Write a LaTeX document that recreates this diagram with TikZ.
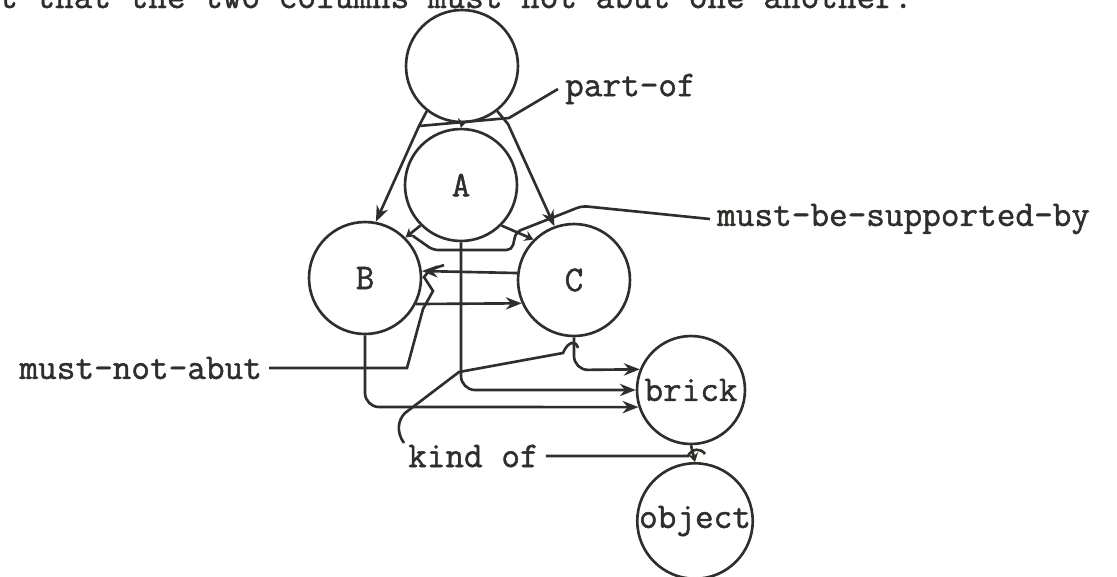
\documentclass[tikz,border=0pt]{standalone}
\usepackage{fontspec}
\newfontfamily\typer{Latin Modern Mono}[FakeBold=1.2]
\usetikzlibrary{arrows.meta}
\definecolor{ink}{HTML}{2E2E2B}
\begin{document}
\begin{tikzpicture}[x=.02cm,y=-.02cm,line width=1.5pt,color=ink,
  every node/.style={font=\fontsize{20.6}{24}\selectfont\typer},
  unit/.style={draw,circle,inner sep=0pt,minimum size=2.24cm},
  link/.style={-{Stealth[length=9pt,width=7pt]}},
  short/.style={-{Stealth[length=5pt,width=6pt]}}]
\useasboundingbox (0,0) rectangle (1117,576);
\clip (0,0) rectangle (1117,576);
\node[anchor=base west] (caption) at (-8,8) {t that the two columns must not abut one another.};
\node[unit] (arch) at (462,66) {};
\node[unit] (A) at (461,185) {A};
\node[unit] (B) at (365,278) {B};
\node[unit] (C) at (574,280) {C};
\node[unit,minimum size=2.16cm] (brick) at (691,390) {brick};
\node[unit,minimum size=2.28cm] (object) at (695,521) {object};
\node[anchor=west] (partof) at (558,89) {part-of};
\node[anchor=west] (support) at (710,219) {must-be-supported-by};
\node[anchor=east] (noabut) at (269,368) {must-not-abut};
\node[anchor=west] (kindof) at (401,456) {kind of};
\draw[short] (arch.south) -- (A.north);
\draw[link] (arch.-128) -- (419,126) -- (B.79);
\draw[link] (arch.-52) -- (508,124) -- (C.110);
\draw (partof.west) -- (509,118) -- (419,126);
\draw[short] (A.-135) -- (B.45);
\draw[short] (A.-45) -- (C.135);
\draw[rounded corners=3pt] (support.west) -- (582,206) -- (516,232) -- (512,250) -- (433,250) -- (413,236);
\draw[link] (C.173) -- (B.7);
\draw[link] (B.-27) -- (C.-156);
\draw (noabut.east) -- (407,368) -- (423,309) -- (433,291) -- (424,277) -- (430,270) -- (444,265);
\draw[link,rounded corners=8pt] (B.south) -- (365,407) -- (brick.-162);
\draw[link,rounded corners=8pt] (A.south) -- (461,390) -- (brick.west);
\draw[link,rounded corners=8pt] (C.south) -- (574,370) -- (brick.158);
\draw (404,443) .. controls (396,432) and (398,420) .. (405,413) -- (459,372) -- (563,353) .. controls (568,341) and (576,340) .. (578,348);
\draw[short] (brick.south) -- (object.north);
\draw (kindof.east) -- (688,456) .. controls (692,448) and (701,448) .. (705,454);
\end{tikzpicture}
\end{document}
